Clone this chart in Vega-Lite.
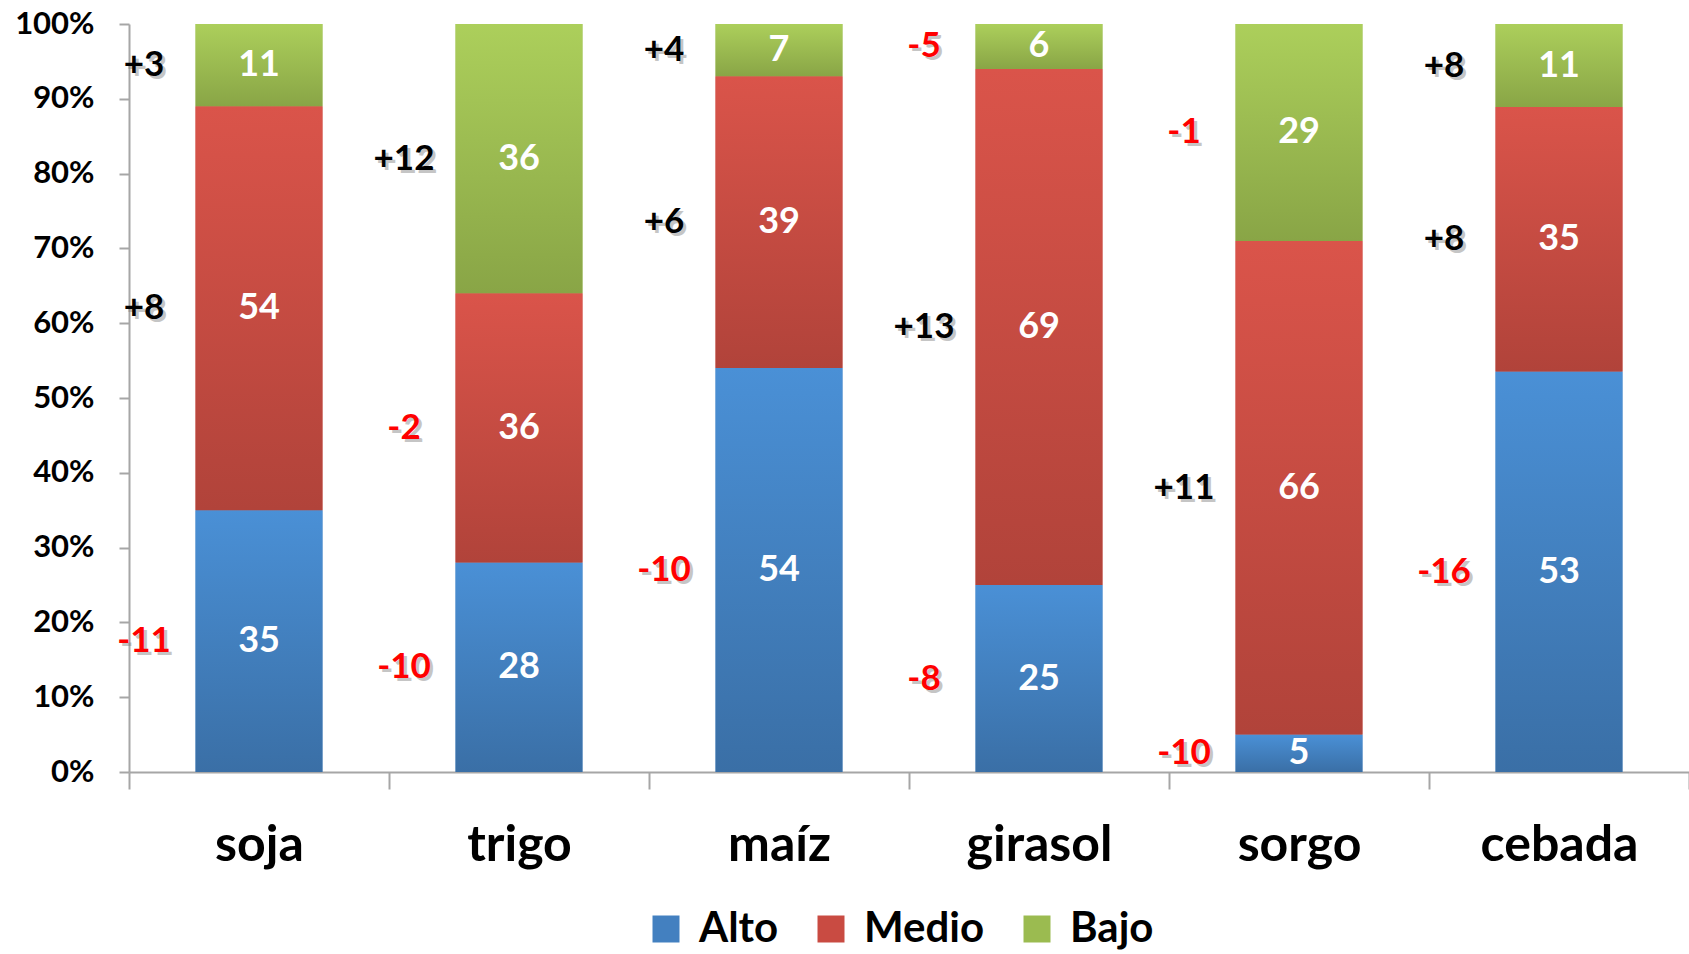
{
  "$schema": "https://vega.github.io/schema/vega-lite/v6.json",
  "width": 1560,
  "height": 748,
  "autosize": {"type": "none"},
  "padding": {"left": 129, "top": 24, "right": 0, "bottom": 182},
  "background": "white",
  "data": {
    "values": [
      {"cultivo": "soja", "nivel": "Alto", "valor": 35, "cambio": -11},
      {"cultivo": "soja", "nivel": "Medio", "valor": 54, "cambio": 8},
      {"cultivo": "soja", "nivel": "Bajo", "valor": 11, "cambio": 3},
      {"cultivo": "trigo", "nivel": "Alto", "valor": 28, "cambio": -10},
      {"cultivo": "trigo", "nivel": "Medio", "valor": 36, "cambio": -2},
      {"cultivo": "trigo", "nivel": "Bajo", "valor": 36, "cambio": 12},
      {"cultivo": "maíz", "nivel": "Alto", "valor": 54, "cambio": -10},
      {"cultivo": "maíz", "nivel": "Medio", "valor": 39, "cambio": 6},
      {"cultivo": "maíz", "nivel": "Bajo", "valor": 7, "cambio": 4},
      {"cultivo": "girasol", "nivel": "Alto", "valor": 25, "cambio": -8},
      {"cultivo": "girasol", "nivel": "Medio", "valor": 69, "cambio": 13},
      {"cultivo": "girasol", "nivel": "Bajo", "valor": 6, "cambio": -5},
      {"cultivo": "sorgo", "nivel": "Alto", "valor": 5, "cambio": -10},
      {"cultivo": "sorgo", "nivel": "Medio", "valor": 66, "cambio": 11},
      {"cultivo": "sorgo", "nivel": "Bajo", "valor": 29, "cambio": -1},
      {"cultivo": "cebada", "nivel": "Alto", "valor": 53, "cambio": -16},
      {"cultivo": "cebada", "nivel": "Medio", "valor": 35, "cambio": 8},
      {"cultivo": "cebada", "nivel": "Bajo", "valor": 11, "cambio": 8}
    ]
  },
  "transform": [
    {"calculate": "indexof(['Alto','Medio','Bajo'], datum.nivel)", "as": "orden"},
    {
      "stack": "valor",
      "groupby": ["cultivo"],
      "sort": [{"field": "orden", "order": "ascending"}],
      "offset": "normalize",
      "as": ["v0", "v1"]
    },
    {"calculate": "(datum.v0 + datum.v1) / 2", "as": "medio"},
    {"calculate": "(datum.cambio > 0 ? '+' : '') + datum.cambio", "as": "etiqueta"}
  ],
  "encoding": {
    "x": {
      "field": "cultivo",
      "type": "nominal",
      "sort": ["soja", "trigo", "maíz", "girasol", "sorgo", "cebada"],
      "scale": {"paddingInner": 0, "paddingOuter": 0},
      "axis": {
        "title": null,
        "labelAngle": 0,
        "labelFont": "Lato",
        "labelFontWeight": "bold",
        "labelFontSize": 50,
        "labelColor": "black",
        "tickBand": "extent",
        "tickSize": 17,
        "tickColor": "#a6a6a6",
        "tickWidth": 2,
        "domainColor": "#a6a6a6",
        "domainWidth": 2,
        "labelPadding": 31
      }
    }
  },
  "layer": [
    {
      "mark": {"type": "bar", "width": {"band": 0.488}},
      "encoding": {
        "y": {
          "field": "v0",
          "type": "quantitative",
          "scale": {"domain": [0, 1]},
          "axis": {
            "title": null,
            "values": [0, 0.1, 0.2, 0.3, 0.4, 0.5, 0.6, 0.7, 0.8, 0.9, 1],
            "format": ".0%",
            "labelFont": "Lato",
            "labelFontWeight": "bold",
            "labelFontSize": 31,
            "labelColor": "black",
            "tickSize": 10,
            "tickColor": "#a6a6a6",
            "tickWidth": 2,
            "domainColor": "#a6a6a6",
            "domainWidth": 2,
            "labelPadding": 25,
            "grid": false
          }
        },
        "y2": {"field": "v1"},
        "color": {
          "field": "nivel",
          "type": "nominal",
          "scale": {
            "domain": ["Alto", "Medio", "Bajo"],
            "range": ["#4380c0", "#c94b42", "#9bbb50"]
          },
          "legend": {
            "orient": "none",
            "legendX": 516,
            "legendY": 884,
            "direction": "horizontal",
            "title": null,
            "symbolType": "square",
            "symbolSize": 729,
            "symbolStrokeWidth": 0,
            "labelFont": "Lato",
            "labelFontWeight": "bold",
            "labelFontSize": 42,
            "labelColor": "black",
            "labelOffset": 12,
            "columnPadding": 31,
            "padding": 0
          }
        }
      }
    },
    {
      "mark": {"type": "bar", "width": {"band": 0.488}},
      "encoding": {
        "y": {"field": "v0", "type": "quantitative"},
        "y2": {"field": "v1"},
        "fill": {
          "condition": [
            {
              "test": "datum.nivel === 'Alto'",
              "value": {
                "gradient": "linear", "x1": 0, "y1": 0, "x2": 0, "y2": 1,
                "stops": [{"offset": 0, "color": "#4a90d6"}, {"offset": 1, "color": "#3a6fa6"}]
              }
            },
            {
              "test": "datum.nivel === 'Medio'",
              "value": {
                "gradient": "linear", "x1": 0, "y1": 0, "x2": 0, "y2": 1,
                "stops": [{"offset": 0, "color": "#da544a"}, {"offset": 1, "color": "#b1433a"}]
              }
            }
          ],
          "value": {
            "gradient": "linear", "x1": 0, "y1": 0, "x2": 0, "y2": 1,
            "stops": [{"offset": 0, "color": "#accf5b"}, {"offset": 1, "color": "#89a546"}]
          }
        }
      }
    },
    {
      "mark": {
        "type": "text",
        "font": "Lato",
        "fontWeight": "bold",
        "fontSize": 36,
        "color": "white",
        "baseline": "middle"
      },
      "encoding": {
        "y": {"field": "medio", "type": "quantitative"},
        "text": {"field": "valor", "type": "quantitative"}
      }
    },
    {
      "mark": {
        "type": "text",
        "font": "Lato",
        "fontWeight": "bold",
        "fontSize": 35,
        "baseline": "middle",
        "dx": -112,
        "dy": 3,
        "color": "#808080",
        "opacity": 0.45
      },
      "encoding": {
        "y": {"field": "medio", "type": "quantitative"},
        "text": {"field": "etiqueta", "type": "nominal"}
      }
    },
    {
      "mark": {
        "type": "text",
        "font": "Lato",
        "fontWeight": "bold",
        "fontSize": 35,
        "baseline": "middle",
        "dx": -115
      },
      "encoding": {
        "y": {"field": "medio", "type": "quantitative"},
        "text": {"field": "etiqueta", "type": "nominal"},
        "color": {
          "condition": {"test": "datum.cambio < 0", "value": "#ff0000"},
          "value": "black"
        }
      }
    }
  ],
  "config": {
    "view": {"stroke": null}
  }
}
